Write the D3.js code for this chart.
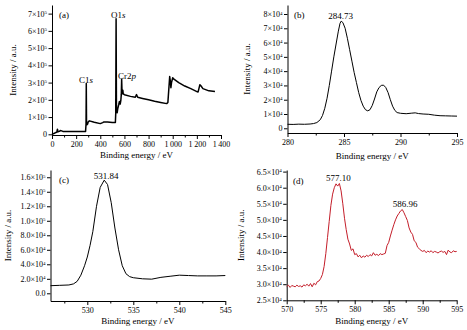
<!DOCTYPE html>
<html><head><meta charset="utf-8">
<script src="https://cdn.jsdelivr.net/npm/d3@7"></script>
<style>
html,body{margin:0;padding:0;background:#fff;}
svg{display:block;font-family:"Liberation Serif","Times New Roman",serif;}
</style></head>
<body><svg id="c" width="467" height="330"></svg>
<script>
// ---------- DATA ----------
// (a) survey spectrum: binding energy (eV), intensity (x1e5)
const surveyEnergy = [0,10,20,30,40,45,50,60,70,80,90,100,150,200,250,278,282,284,286,289,295,300,310,350,400,420,430,460,500,525,528,531,534,540,545,552,558,565,570,574,577,580,584,587,590,600,650,690,700,710,750,800,850,900,950,960,975,980,985,990,1000,1010,1050,1100,1150,1200,1210,1225,1235,1250,1300,1350];
const surveyIntensity = [0.00,0.03,0.06,0.10,0.12,0.30,0.15,0.17,0.22,0.20,0.17,0.17,0.17,0.16,0.16,0.17,0.60,2.95,0.70,0.55,0.60,0.72,0.78,0.70,0.62,0.68,0.72,0.72,0.68,0.68,1.20,6.70,1.30,1.25,1.50,1.70,1.90,1.75,1.95,2.30,3.20,2.50,2.35,2.55,2.35,2.30,2.20,2.15,2.30,2.15,2.08,2.00,1.92,1.85,1.78,1.85,3.35,3.10,2.70,3.00,3.28,3.20,3.00,2.80,2.65,2.48,2.45,2.88,2.80,2.65,2.52,2.48];

// (b) C1s: energy (eV), intensity (x1e4)
const c1sEnergy = [280.0,280.5,281.0,281.5,282.0,282.3,282.6,282.9,283.1,283.3,283.5,283.7,283.9,284.1,284.3,284.5,284.65,284.75,284.9,285.1,285.3,285.5,285.7,285.9,286.1,286.3,286.5,286.7,286.9,287.1,287.3,287.5,287.7,287.9,288.1,288.3,288.5,288.7,288.9,289.1,289.3,289.5,289.7,290.0,290.5,291.0,291.3,291.6,292.0,292.5,293.0,293.5,294.0,294.5,295.0];
const c1sIntensity = [0.28,0.27,0.29,0.28,0.30,0.33,0.40,0.60,0.90,1.40,2.10,3.00,4.00,5.00,5.90,6.80,7.35,7.50,7.40,7.00,6.30,5.50,4.70,3.90,3.20,2.50,1.95,1.55,1.30,1.22,1.30,1.60,2.05,2.55,2.85,3.00,3.02,2.85,2.50,2.00,1.55,1.25,1.10,1.05,1.02,1.06,1.08,1.03,1.00,0.98,0.92,0.88,0.87,0.86,0.85];

// (c) O1s: energy (eV), intensity (x1e4)
const o1sEnergy = [526,527,528,528.5,528.9,529.3,529.7,530,530.3,530.6,531,531.4,531.84,532.2,532.6,533,533.4,533.8,534.2,534.6,535,536,537,538,539,540,541,542,543,544,545];
const o1sIntensity = [1.05,1.10,1.15,1.30,1.65,2.50,3.80,5.00,6.60,8.50,12.0,14.6,15.6,15.0,12.5,9.0,6.0,3.8,2.7,2.3,2.15,2.00,1.95,2.20,2.35,2.50,2.45,2.40,2.40,2.40,2.45];

// (d) Cr2p: energy (eV), intensity (x1e4)
const cr2pEnergy = [570.00,570.25,570.50,570.75,571.00,571.25,571.50,571.75,572.00,572.25,572.50,572.75,573.00,573.25,573.50,573.75,574.00,574.25,574.50,574.75,575.00,575.25,575.50,575.75,576.00,576.25,576.50,576.75,577.00,577.25,577.50,577.75,578.00,578.25,578.50,578.75,579.00,579.25,579.50,579.75,580.00,580.25,580.50,580.75,581.00,581.25,581.50,581.75,582.00,582.25,582.50,582.75,583.00,583.25,583.50,583.75,584.00,584.25,584.50,584.75,585.00,585.25,585.50,585.75,586.00,586.25,586.50,586.75,587.00,587.25,587.50,587.75,588.00,588.25,588.50,588.75,589.00,589.25,589.50,589.75,590.00,590.25,590.50,590.75,591.00,591.25,591.50,591.75,592.00,592.25,592.50,592.75,593.00,593.25,593.50,593.75,594.00,594.25,594.50,594.75,595.00];
const cr2pIntensity = [2.93,2.97,2.90,2.96,2.94,2.92,2.97,2.93,2.95,2.91,2.98,2.95,3.00,2.94,3.02,2.92,3.03,2.98,3.08,3.10,3.18,3.30,3.55,3.95,4.45,4.95,5.45,5.80,6.00,6.12,6.05,6.13,5.90,5.50,5.05,4.70,4.40,4.25,4.05,4.10,3.92,3.95,3.85,3.90,3.82,3.88,3.84,3.90,3.86,3.92,3.88,3.98,3.90,3.93,3.89,3.95,3.92,3.94,3.96,4.20,4.30,4.50,4.68,4.85,5.00,5.12,5.20,5.28,5.32,5.22,5.10,4.98,4.75,4.62,4.55,4.35,4.30,4.15,4.10,4.05,4.02,4.05,3.98,4.03,4.00,4.04,3.98,4.02,4.00,3.97,4.01,4.03,3.99,4.02,3.92,4.06,4.00,3.98,4.04,4.01,4.02];

// tick values
const aXTicks = [0,200,400,600,800,1000,1200,1400];
const aXTickLabels = ["0","200","400","600","800","1\u2009000","1\u2009200","1\u2009400"];
const aYTicks = [0,1e5,2e5,3e5,4e5,5e5,6e5,7e5];
const bXTicks = [280,285,290,295];
const bYTicks = [0,1e4,2e4,3e4,4e4,5e4,6e4,7e4,8e4];
const cXTicks = [530,535,540,545];
const cYTicks = [0,2e4,4e4,6e4,8e4,1e5,1.2e5,1.4e5,1.6e5];
const dXTicks = [570,575,580,585,590,595];
const dYTicks = [2.5e4,3e4,3.5e4,4e4,4.5e4,5e4,5.5e4,6e4,6.5e4];

// ---------- DRAW ----------
const svg = d3.select("#c");
const FS = 8;
const TFS = 9;

function setLabels(g, fmt){
  g.selectAll(".tick text").each(function(d,i){
    const t = d3.select(this);
    const f = fmt(d,i);
    t.text(null);
    t.append("tspan").text(f[0]);
    if (f[1]) t.append("tspan").attr("dy","-0.5em").attr("font-size","5px").text(f[1]);
  });
}

function panel(o){
  const x = d3.scaleLinear().domain(o.xd).range(o.xr);
  const y = d3.scaleLinear().domain(o.yd).range(o.yr);
  const g = svg.append("g");
  g.append("g").attr("transform",`translate(0,${o.yr[0]})`)
    .call(d3.axisBottom(x).tickValues(o.xMinor).tickSize(2.5).tickFormat(""))
    .call(s=>s.select(".domain").remove());
  const xa = g.append("g").attr("transform",`translate(0,${o.yr[0]})`)
    .call(d3.axisBottom(x).tickValues(o.xTicks).tickSize(4).tickPadding(2).tickSizeOuter(0));
  xa.selectAll("text").attr("font-size",FS).attr("font-family","Liberation Serif").attr("fill","#000");
  if (o.xLabels) xa.selectAll(".tick text").text((d,i)=>o.xLabels[i]);
  const ya = g.append("g").attr("transform",`translate(${o.xr[0]},0)`)
    .call(d3.axisLeft(y).tickValues(o.yTicks).tickSize(3.5).tickPadding(1.5).tickSizeOuter(0));
  ya.selectAll("text").attr("font-size",FS).attr("font-family","Liberation Serif").attr("fill","#000");
  setLabels(ya, o.yFmt);
  g.selectAll(".domain").attr("stroke","#000").attr("stroke-width",1);
  g.selectAll(".tick line").attr("stroke","#000");
  const pts = o.ex.map((e,i)=>[e,o.iy[i]*o.scale]);
  g.append("path").datum(pts)
    .attr("fill","none").attr("stroke",o.color).attr("stroke-width",o.lw)
    .attr("stroke-linejoin","round")
    .attr("d", d3.line().x(d=>x(d[0])).y(d=>y(d[1])));
  g.append("text").attr("x",(o.xr[0]+o.xr[1])/2).attr("y",o.xtY).attr("fill","#000")
    .attr("text-anchor","middle").attr("font-size",TFS).text("Binding energy / eV");
  g.append("text").attr("transform",`translate(${o.ytX},${(o.yr[0]+o.yr[1])/2}) rotate(-90)`)
    .attr("text-anchor","middle").attr("font-size",TFS).attr("fill","#000").text("Intensity / a.u.");
  return {x,y,g};
}

const sup = (m,e)=>[m+"\u00d710", e];

panel({xd:[0,1400], xr:[52,221], yd:[-4000,750000], yr:[135,5],
  xTicks:aXTicks, xLabels:aXTickLabels, xMinor:d3.range(100,1400,200),
  yTicks:aYTicks, yFmt:d=> d===0?["0",""]:sup(String(d/1e5),"5"),
  ex:surveyEnergy, iy:surveyIntensity, scale:1e5, color:"#000", lw:1.5,
  xtY:158, ytX:16});
panel({xd:[280,295], xr:[287.5,457], yd:[-3300,86300], yr:[133,5],
  xTicks:bXTicks, xMinor:[282.5,287.5,292.5],
  yTicks:bYTicks, yFmt:d=> d===0?["0",""]:sup(String(Math.round(d/1e4)),"4"),
  ex:c1sEnergy, iy:c1sIntensity, scale:1e4, color:"#000", lw:1,
  xtY:159, ytX:250});
panel({xd:[526,545], xr:[50.5,225.3], yd:[-10600,170000], yr:[301,170],
  xTicks:cXTicks, xMinor:[527.5,532.5,537.5,542.5],
  yTicks:cYTicks, yFmt:d=> d===0?["0.0",""]:(d<1e5?sup((d/1e4).toFixed(1),"4"):sup((d/1e5).toFixed(1),"5")),
  ex:o1sEnergy, iy:o1sIntensity, scale:1e4, color:"#000", lw:1,
  xtY:324, ytX:11});
panel({xd:[570,595], xr:[286.7,456.7], yd:[25000,65500], yr:[300.3,170],
  xTicks:dXTicks, xMinor:[572.5,577.5,582.5,587.5,592.5],
  yTicks:dYTicks, yFmt:d=> sup((d/1e4).toFixed(1),"4"),
  ex:cr2pEnergy, iy:cr2pIntensity, scale:1e4, color:"#c41e2a", lw:1,
  xtY:324, ytX:244});

function ann(x,y,parts,anchor){
  const t = svg.append("text").attr("x",x).attr("y",y).attr("font-size",9)
    .attr("fill","#000").attr("text-anchor",anchor||"start");
  parts.forEach(p=>t.append("tspan").attr("font-style",p[1]?"italic":"normal").attr("fill","#000").text(p[0]));
}
ann(59,18,[["(a)"]]);
ann(111,18,[["O1"],["s",1]]);
ann(79,83,[["C1"],["s",1]]);
ann(118,79,[["Cr2"],["p",1]]);
ann(294,18,[["(b)"]]);
ann(340.7,19,[["284.73"]],"middle");
ann(59,183,[["(c)"]]);
ann(106,179,[["531.84"]],"middle");
ann(293,184,[["(d)"]]);
ann(338.3,181,[["577.10"]],"middle");
ann(405,207,[["586.96"]],"middle");
</script></body></html>
